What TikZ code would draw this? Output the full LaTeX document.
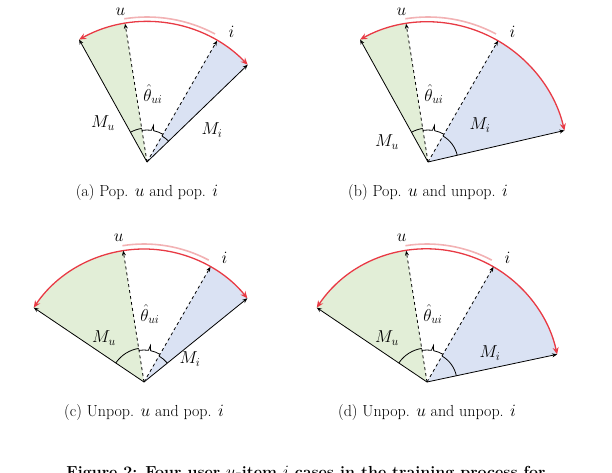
\documentclass[tikz,border=0pt]{standalone}
\usetikzlibrary{arrows.meta}
\definecolor{gfill}{RGB}{226,238,215}
\definecolor{bfill}{RGB}{218,226,243}
\definecolor{redarc}{RGB}{232,58,68}
\definecolor{pinkarc}{RGB}{242,178,180}
\tikzset{
  solidvec/.style={-{Stealth[length=5pt,width=4pt]},line width=0.8pt},
  dashvec/.style={-{Stealth[length=5pt,width=4pt]},dashed,line width=0.8pt},
  redarrow/.style={{Stealth[length=7pt,width=6pt]}-{Stealth[length=7pt,width=6pt]},redarc,line width=1.3pt},
  pinkline/.style={pinkarc,line width=1.6pt},
  lab/.style={font=\fontsize{17}{19}\selectfont},
  captext/.style={font=\fontsize{16}{18}\selectfont},
  bracepath/.style={line width=0.8pt}
}
% #1 name, #2 x, #3 y, #4 R, #5 Mu angle, #6 Mi angle, #7 caption, #8 Mu label pos, #9 Mi label pos
\newcommand{\mypanel}[9]{%
\begin{scope}[shift={(#2,#3)}]
  \coordinate (o#1) at (0,0);
  \fill[gfill] (0,0) -- (#5:#4) arc[start angle=#5,end angle=99,radius=#4] -- cycle;
  \fill[bfill] (0,0) -- (60:#4) arc[start angle=60,end angle=#6,radius=#4] -- cycle;
  \coordinate (mu#1) at (#5:#4);
  \coordinate (mi#1) at (#6:#4);
  \coordinate (u#1) at (99:#4);
  \coordinate (i#1) at (60:#4);
  \draw[pinkline] (99:#4+5) arc[start angle=99,end angle=62,radius=#4+5];
  \draw[redarrow] (mu#1) arc[start angle=#5,end angle=#6,radius=#4];
  \draw[solidvec] (o#1) -- (mu#1);
  \draw[solidvec] (o#1) -- (mi#1);
  \draw[dashvec] (o#1) -- (u#1);
  \draw[dashvec] (o#1) -- (i#1);
  \draw[bracepath] (99:32) arc[start angle=99,end angle=82,radius=32] -- (80:37) -- (78:32) arc[start angle=78,end angle=60,radius=32];
  \draw[bracepath] (#5:34) arc[start angle=#5,end angle=99,radius=34];
  \draw[bracepath] (60:30) arc[start angle=60,end angle=#6,radius=30];
  \node[lab] (lu#1) at (100:#4+13) {$u$};
  \node[lab] (li#1) at (57:#4+15) {$i$};
  \node[lab] (lt#1) at (85:68) {$\hat{\theta}_{ui}$};
  \node[lab] (lmu#1) at #8 {$M_u$};
  \node[lab] (lmi#1) at #9 {$M_i$};
  \node[captext] (c#1) at (0,-31) {#7};
\end{scope}}
\begin{document}
\begin{tikzpicture}[x=1pt,y=1pt]
\useasboundingbox (0,0) rectangle (612,472);
\clip (0,0) rectangle (612,472);
\mypanel{a}{147}{310}{140}{119}{44}{(a) Pop. $u$ and pop. $i$}{(-44,39)}{(65,32)}
\mypanel{b}{428}{310}{140}{119}{13}{(b) Pop. $u$ and unpop. $i$}{(-41,20)}{(52,37)}
\mypanel{c}{144}{90}{133}{146}{39}{(c) Unpop. $u$ and pop. $i$}{(-40,44)}{(46,23)}
\mypanel{d}{427}{90}{133}{146}{12}{(d) Unpop. $u$ and unpop. $i$}{(-40,44)}{(63,29)}
\node[font=\bfseries\fontsize{16}{18}\selectfont,anchor=base] (fig) at (306,-5) {Figure 2: Four user $u$-item $i$ cases in the training process for};
\end{tikzpicture}
\end{document}
